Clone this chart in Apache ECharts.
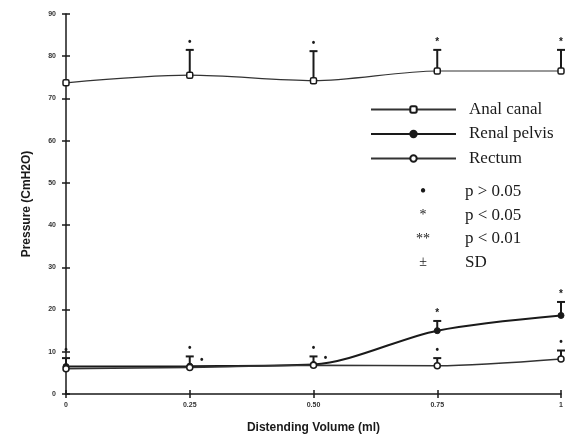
<!DOCTYPE html>
<html>
<head>
<meta charset="utf-8">
<script src="https://cdn.jsdelivr.net/npm/echarts@6/dist/echarts.min.js"></script>
<style>
  html, body { margin: 0; padding: 0; background: #fff; }
  #chart { width: 571px; height: 439px; }
</style>
</head>
<body>
<div id="chart"></div>
<script>
// Distending volume (ml) and mean pressures (cmH2O)
const volumes = [0, 0.25, 0.5, 0.75, 1];
const xTickLabels = ['0', '0.25', '0.50', '0.75', '1'];

const analCanal = [73.7, 75.5, 74.2, 76.5, 76.5];
const analCanalSD = [0, 6.0, 7.0, 5.0, 5.0];
const analCanalSig = ['', '•', '•', '*', '*'];

const renalPelvis = [6.5, 6.6, 7.0, 15.0, 18.6];
const renalPelvisSD = [2.0, 2.3, 1.9, 2.3, 3.2];
const renalPelvisSig = ['•', '•', '•', '*', '*'];

const rectum = [6.0, 6.3, 6.8, 6.7, 8.3];
const rectumSD = [0, 0, 0, 1.8, 2.0];
const rectumSig = ['', '•', '•', '•', '•'];

const keyRows = [
  ['•', 'p > 0.05'],
  ['*', 'p < 0.05'],
  ['**', 'p < 0.01'],
  ['±', 'SD']
];

const ink = '#1a1a1a';
const serif = '"Liberation Serif", "DejaVu Serif", serif';
const sans = '"Liberation Sans", Arial, sans-serif';

function pairs(vals) { return volumes.map((v, i) => [v, vals[i]]); }
function withSD(vals, sds) { return volumes.map((v, i) => [v, vals[i], sds[i]]); }

// Error bar (mean to mean + SD) with a cap and a significance mark above it
function errorBars(sigs) {
  return function (params, api) {
    const x = api.value(0), y = api.value(1), sd = api.value(2);
    const sig = sigs[params.dataIndex];
    const p = api.coord([x, y]);
    const children = [];
    if (sd > 0) {
      const t = api.coord([x, y + sd]);
      children.push({ type: 'line', shape: { x1: p[0], y1: p[1], x2: t[0], y2: t[1] },
        style: { stroke: ink, lineWidth: 2 } });
      children.push({ type: 'line', shape: { x1: t[0] - 4, y1: t[1], x2: t[0] + 4, y2: t[1] },
        style: { stroke: ink, lineWidth: 2 } });
      if (sig) children.push({ type: 'text', x: t[0], y: t[1] - 3,
        style: { text: sig, fill: ink, font: 'bold 10px ' + sans, align: 'center', verticalAlign: 'bottom' } });
    } else if (sig) {
      children.push({ type: 'text', x: p[0] + 12, y: p[1] - 2,
        style: { text: sig, fill: ink, font: 'bold 10px ' + sans, align: 'center', verticalAlign: 'bottom' } });
    }
    return { type: 'group', children: children };
  };
}

const chart = echarts.init(document.getElementById('chart'), null, { renderer: 'canvas' });

const tickLabel = { fontSize: 7, color: '#333', fontWeight: 'bold', fontFamily: sans };

// Significance key below the legend
const keyGraphics = [];
keyRows.forEach((r, i) => {
  const y = 192 + i * 23.5;
  keyGraphics.push({ type: 'text', x: 423, y: y, style: {
    text: r[0], fill: ink, font: (i === 0 ? 'bold 16px ' : '14px ') + serif, align: 'center', verticalAlign: 'middle' } });
  keyGraphics.push({ type: 'text', x: 465, y: y, style: {
    text: r[1], fill: ink, font: '17px ' + serif, verticalAlign: 'middle' } });
});

chart.setOption({
  animation: false,
  backgroundColor: '#fff',
  grid: { left: 66, right: 10, top: 14, bottom: 43 },
  legend: {
    orient: 'vertical', left: 365, top: 96, itemWidth: 85, itemHeight: 8, itemGap: 7.5,
    data: ['Anal canal', 'Renal pelvis', 'Rectum'],
    textStyle: { fontFamily: serif, fontSize: 17, color: ink, padding: [0, 0, 0, 8] }
  },
  xAxis: [{
    type: 'value', min: 0, max: 1, interval: 0.25,
    name: 'Distending Volume (ml)', nameLocation: 'middle', nameGap: 28,
    nameTextStyle: { fontFamily: sans, fontWeight: 'bold', fontSize: 12, color: ink },
    axisLine: { lineStyle: { color: ink, width: 1.5 } },
    axisTick: { length: 4, lineStyle: { color: ink, width: 1.5 } },
    axisLabel: Object.assign({ margin: 8, formatter: (v) => xTickLabels[volumes.indexOf(v)] }, tickLabel),
    splitLine: { show: false }
  }, {
    type: 'value', min: 0, max: 1, interval: 0.25, position: 'bottom',
    axisLine: { show: false }, axisLabel: { show: false }, splitLine: { show: false },
    axisTick: { inside: true, length: 4, lineStyle: { color: ink, width: 1.5 } }
  }],
  yAxis: [{
    type: 'value', min: 0, max: 90, interval: 10,
    name: 'Pressure (CmH2O)', nameLocation: 'middle', nameGap: 33,
    nameTextStyle: { fontFamily: sans, fontWeight: 'bold', fontSize: 12, color: ink },
    axisLine: { show: true, lineStyle: { color: ink, width: 1.5 } },
    axisTick: { show: true, length: 4, lineStyle: { color: ink, width: 1.5 } },
    axisLabel: Object.assign({ margin: 10 }, tickLabel),
    splitLine: { show: false }
  }, {
    type: 'value', min: 0, max: 90, interval: 10, position: 'left',
    axisLine: { show: false }, axisLabel: { show: false }, splitLine: { show: false },
    axisTick: { show: true, inside: true, length: 4, lineStyle: { color: ink, width: 1.5 } }
  }],
  graphic: keyGraphics,
  series: [
    { name: 'Anal canal', type: 'line', data: pairs(analCanal), smooth: 0.3,
      symbol: 'roundRect', symbolSize: 6,
      itemStyle: { color: '#fff', borderColor: ink, borderWidth: 1.5 },
      lineStyle: { color: '#333', width: 1.2 }, z: 3 },
    { name: 'Renal pelvis', type: 'line', data: pairs(renalPelvis), smooth: 0.3,
      symbol: 'circle', symbolSize: 6,
      itemStyle: { color: ink, borderColor: ink, borderWidth: 1 },
      lineStyle: { color: ink, width: 2 }, z: 3 },
    { name: 'Rectum', type: 'line', data: pairs(rectum), smooth: 0.3,
      symbol: 'circle', symbolSize: 6,
      itemStyle: { color: '#fff', borderColor: ink, borderWidth: 1.5 },
      lineStyle: { color: '#333', width: 1.5 }, z: 3 },
    { type: 'custom', data: withSD(analCanal, analCanalSD), renderItem: errorBars(analCanalSig), z: 2 },
    { type: 'custom', data: withSD(renalPelvis, renalPelvisSD), renderItem: errorBars(renalPelvisSig), z: 2 },
    { type: 'custom', data: withSD(rectum, rectumSD), renderItem: errorBars(rectumSig), z: 2 }
  ]
});
</script>
</body>
</html>
